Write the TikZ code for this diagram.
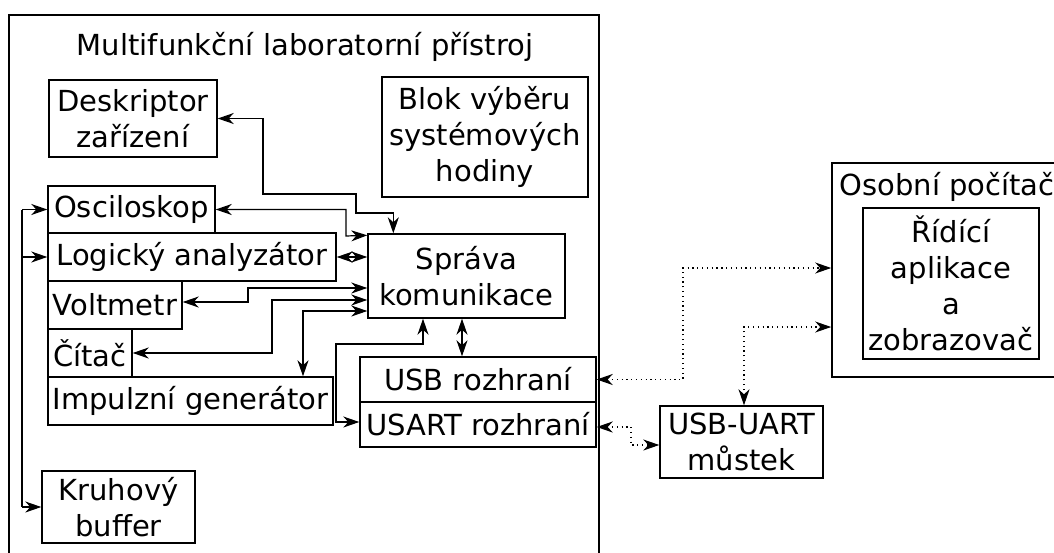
\documentclass[tikz,border=0pt]{standalone}
\usepackage{fontspec}
\setmainfont{DejaVu Sans}
\usetikzlibrary{arrows.meta}
\tikzset{
  tipA/.tip={Stealth[length=16pt,width=11pt,inset=5pt]},
  box/.style={draw,line width=1.4pt,inner sep=0pt,align=center},
  con/.style={line width=1.2pt},
  dot/.style={line width=1.2pt,dash pattern=on 1.2pt off 3.6pt},
  lr/.style={tipA-tipA},
  tor/.style={-tipA}
}
\begin{document}
\begin{tikzpicture}[x=1pt,y=-1pt,
  every node/.style={font=\fontsize{29}{36}\selectfont}]
\useasboundingbox (0,0) rectangle (1054,552);
% outer frames
\node[box,line width=2pt,minimum width=590,minimum height=560] (dev) at (304,295) {};
\node (devtitle) at (305,47) {Multifunkční laboratorní přístroj};
\node[box,line width=1.6pt,minimum width=238,minimum height=214] (pc) at (951,270) {};
\node[anchor=west] (pctitle) at (836,187) {Osobní počítač};
% boxes
\node[box,minimum width=168,minimum height=77] (desk) at (133,118.5) {Deskriptor\\zařízení};
\node[box,minimum width=206,minimum height=120] (blok) at (485,137) {Blok výběru\\systémových\\hodiny};
\node[box,minimum width=167,minimum height=47] (osc) at (131.5,209.5) {Osciloskop};
\node[box,minimum width=288,minimum height=48] (log) at (192,257) {Logický analyzátor};
\node[box,minimum width=134,minimum height=48] (volt) at (115,305) {Voltmetr};
\node[box,minimum width=84,minimum height=48] (cit) at (90,353) {Čítač};
\node[box,minimum width=285,minimum height=48] (imp) at (190.5,401) {Impulzní generátor};
\node[box,minimum width=197,minimum height=84] (sprava) at (466.5,276) {Správa\\komunikace};
\node[box,minimum width=236,minimum height=45] (usb) at (478,379.5) {USB rozhraní};
\node[box,minimum width=236,minimum height=45] (usart) at (478,424.5) {USART rozhraní};
\node[box,minimum width=153,minimum height=72] (kruh) at (118.5,507) {Kruhový\\buffer};
\node[box,minimum width=176,minimum height=151] (app) at (951,283.5) {Řídící\\aplikace\\a\\zobrazovač};
\node[box,minimum width=163,minimum height=72] (bridge) at (741.5,442) {USB-UART\\můstek};
% internal connectors
\draw[con,lr] (desk.east) -| (263,194) -| (356,213) -| ([xshift=26pt]sprava.north west);
\draw[con,lr] (osc.east) -| (346,236) -- ([yshift=-2pt]sprava.north west);
\draw[con,lr] (log.east) -- (log.east -| sprava.west);
\draw[con,lr] ([yshift=3pt]volt.east) -| (248,288) -- ([yshift=-12pt]sprava.west);
\draw[con,lr] (cit.east) -| (272,300) -- ([yshift=-24pt]sprava.west);
\draw[con,lr] ([yshift=-35pt]sprava.west) -| ([xshift=112.5pt]imp.north);
\draw[con,lr] ([xshift=-43.5pt]sprava.south) |- (336,344) |- ([yshift=2.5pt]usart.west);
\draw[con,lr] ([xshift=-4.5pt]sprava.south) -- ([xshift=-16pt]usb.north);
% left bus
\coordinate (bustop) at (22,209.5);
\coordinate (busbot) at (22,507);
\draw[con] (bustop) -- (busbot);
\draw[con,tor] (bustop) -- (osc.west);
\draw[con,tor] (bustop |- log.west) -- (log.west);
\draw[con,tor] (busbot) -- (kruh.west);
% external dotted connectors
\draw[dot,lr] (usb.east) -| (683,268) -- ([yshift=2pt]pc.west);
\draw[dot,lr] ([xshift=2.5pt]bridge.north) |- ([yshift=-57pt]pc.west);
\draw[dot,lr] ([yshift=-2.5pt]usart.east) -| (631,445) -- ([yshift=-3pt]bridge.west);
\end{tikzpicture}
\end{document}
